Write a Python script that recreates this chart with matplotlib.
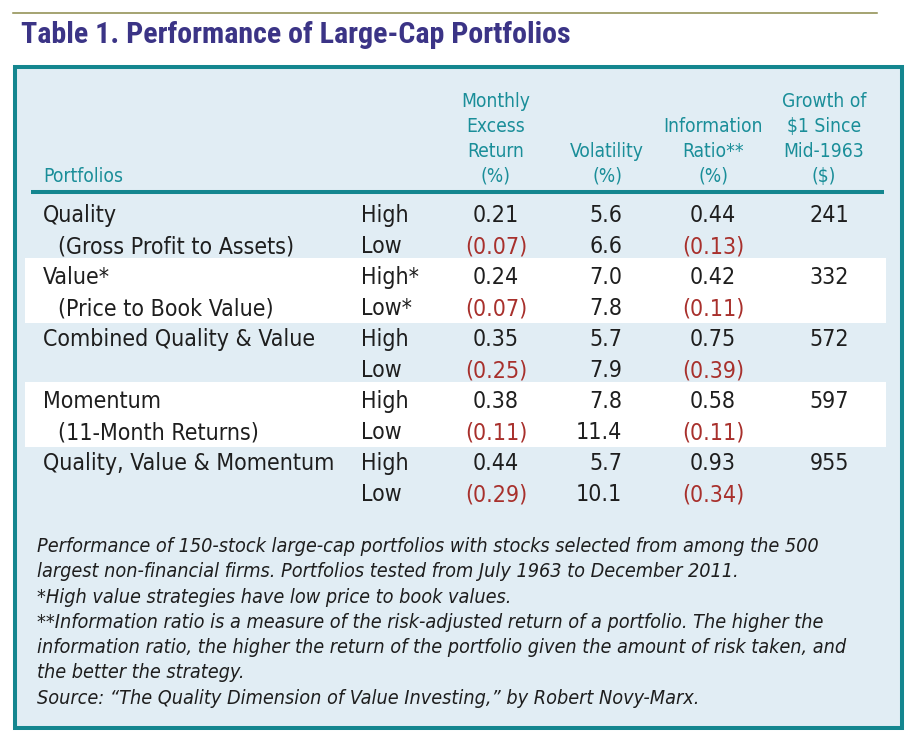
import matplotlib
matplotlib.use("Agg")
import matplotlib.pyplot as plt
from matplotlib.patches import Rectangle

# ---- datos de la tabla ----
portafolios = ["Quality", "Value*", "Combined Quality & Value", "Momentum",
               "Quality, Value & Momentum"]
subtitulos = ["(Gross Profit to Assets)", "(Price to Book Value)", "", "(11-Month Returns)", ""]
niveles = [("High", "Low"), ("High*", "Low*"), ("High", "Low"), ("High", "Low"), ("High", "Low")]
exceso = [(0.21, -0.07), (0.24, -0.07), (0.35, -0.25), (0.38, -0.11), (0.44, -0.29)]
volatilidad = [(5.6, 6.6), (7.0, 7.8), (5.7, 7.9), (7.8, 11.4), (5.7, 10.1)]
ratio_info = [(0.44, -0.13), (0.42, -0.11), (0.75, -0.39), (0.58, -0.11), (0.93, -0.34)]
crecimiento = [241, 332, 572, 597, 955]

encabezados = [
    ["Monthly", "Excess", "Return", "(%)"],
    ["Volatility", "(%)"],
    ["Information", "Ratio**", "(%)"],
    ["Growth of", "$1 Since", "Mid-1963", "($)"],
]
notas = [
    "Performance of 150-stock large-cap portfolios with stocks selected from among the 500",
    "largest non-financial firms. Portfolios tested from July 1963 to December 2011.",
    "*High value strategies have low price to book values.",
    "**Information ratio is a measure of the risk-adjusted return of a portfolio. The higher the",
    "information ratio, the higher the return of the portfolio given the amount of risk taken, and",
    "the better the strategy.",
    "Source: \u201cThe Quality Dimension of Value Investing,\u201d by Robert Novy-Marx.",
]

TEAL = "#14868f"
TEAL_TXT = "#1a8e99"
ROJO = "#a8302c"
FONDO = "#e1edf4"
NEGRO = "#1e1e1e"
CUERPO = dict(family="DejaVu Sans", fontstretch="condensed")
FS = 16.6


def fmt(v, dec=2):
    return f"({abs(v):.{dec}f})" if v < 0 else f"{v:.{dec}f}"


fig = plt.figure(figsize=(9.15, 7.4), dpi=100)
ax = fig.add_axes([0, 0, 1, 1])
ax.set_xlim(0, 915)
ax.set_ylim(740, 0)
ax.axis("off")

# línea superior y título
ax.plot([13, 877], [13, 13], color="#8c8a4a", lw=1.1)
ax.text(21, 43, "Table 1. Performance of Large-Cap Portfolios", family="Roboto Condensed",
        fontweight="bold", fontsize=21.6, color="#3b3486", va="baseline", ha="left")

# caja
ax.add_patch(Rectangle((15, 67), 887, 661, facecolor=FONDO, edgecolor=TEAL, lw=2.9))

x_cols = [496, 622, 713, 829]
ha_cols = ["center", "right", "center", "center"]
x_hdr = [496, 607, 713, 824]

# encabezados (alineados abajo)
ax.text(43, 182, "Portfolios", color=TEAL_TXT, fontsize=13.8, va="baseline", **CUERPO)
for xc, lineas in zip(x_hdr, encabezados):
    base = 182 - 25 * (len(lineas) - 1)
    for k, s in enumerate(lineas):
        ax.text(xc, base + 25 * k, s, color=TEAL_TXT, fontsize=13.8, ha="center",
                va="baseline", **CUERPO)
ax.plot([31, 884], [192, 192], color=TEAL, lw=2.9, solid_capstyle="butt")

# filas
y0, paso = 222, 31
for g in range(len(portafolios)):
    ya, yb = y0 + 2 * g * paso, y0 + (2 * g + 1) * paso
    if g % 2 == 1:
        ax.add_patch(Rectangle((25, ya - 26), 861, 2 * paso + 3, facecolor="white",
                               edgecolor="none"))
    ax.text(43, ya, portafolios[g], color=NEGRO, fontsize=FS, va="baseline", **CUERPO)
    if subtitulos[g]:
        ax.text(58, yb, subtitulos[g], color=NEGRO, fontsize=FS, va="baseline", **CUERPO)
    for k, y in enumerate((ya, yb)):
        ax.text(361, y, niveles[g][k], color=NEGRO, fontsize=FS, va="baseline", **CUERPO)
        vals = [exceso[g][k], volatilidad[g][k], ratio_info[g][k]]
        for j, v in enumerate(vals):
            s = fmt(v, 1 if j == 1 else 2)
            ax.text(x_cols[j], y, s, color=ROJO if v < 0 else NEGRO, fontsize=FS,
                    ha=ha_cols[j], va="baseline", **CUERPO)
    ax.text(x_cols[3], ya, str(crecimiento[g]), color=NEGRO, fontsize=FS, ha="center",
            va="baseline", **CUERPO)

# notas al pie
for i, s in enumerate(notas):
    ax.text(37, 552 + 25.3 * i, s, color=NEGRO, fontsize=14.2, style="italic",
            va="baseline", **CUERPO)

fig.savefig("out.png", dpi=100)
